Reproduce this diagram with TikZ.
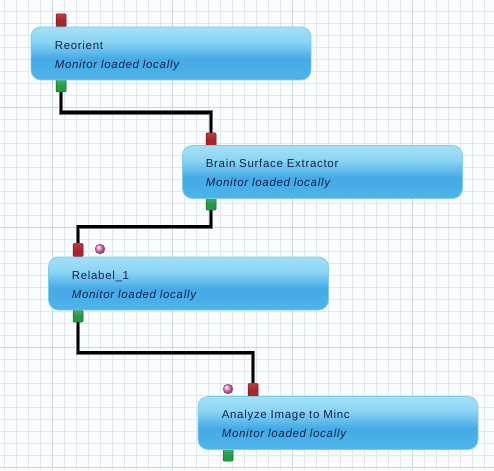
\documentclass[tikz,border=0pt]{standalone}
\usepackage{fontspec}
\setmainfont{Liberation Sans}[LetterSpace=6]
\usetikzlibrary{calc,shadings}
\definecolor{bgcol}{HTML}{FBFCFD}
\definecolor{minorcol}{HTML}{E2E9EE}
\definecolor{majorcol}{HTML}{C5D8DE}
\definecolor{boxtop}{HTML}{CFF3FC}
\definecolor{boxtop2}{HTML}{8DD6F4}
\definecolor{boxmid}{HTML}{44AAE6}
\definecolor{boxbot2}{HTML}{58BAEE}
\definecolor{boxbot}{HTML}{9ED9F4}
\definecolor{boxedge}{HTML}{7CCFE2}
\definecolor{txtcol}{HTML}{15234A}
\definecolor{redport}{HTML}{A8262A}
\definecolor{redporttop}{HTML}{D05058}
\definecolor{rededge}{HTML}{6A1214}
\definecolor{greenport}{HTML}{239A48}
\definecolor{greenporttop}{HTML}{5CC47A}
\definecolor{greenedge}{HTML}{14602C}
\definecolor{pinkball}{HTML}{F070C0}
\pgfdeclareverticalshading{glass}{100bp}{color(0bp)=(boxbot); color(12bp)=(boxbot2); color(45bp)=(boxmid); color(62bp)=(boxtop2); color(100bp)=(boxtop)}
\pgfdeclareverticalshading{redsh}{100bp}{color(0bp)=(redport); color(50bp)=(redport); color(100bp)=(redporttop)}
\pgfdeclareverticalshading{greensh}{100bp}{color(0bp)=(greenport); color(50bp)=(greenport); color(100bp)=(greenporttop)}
\begin{document}
\begin{tikzpicture}[x=1pt,y=-1pt,
  minorline/.style={draw=minorcol,line width=0.6pt},
  majorline/.style={draw=majorcol,line width=0.8pt},
  modbox/.style={draw=boxedge,line width=0.8pt,shading=glass,rounded corners=10pt,
    minimum width=280pt,minimum height=53pt,inner sep=0pt},
  modtext/.style={inner xsep=0pt,inner ysep=0pt,
    text width=233pt,align=left,text=txtcol,font=\fontsize{11.5}{19}\selectfont},
  inport/.style={draw=rededge,line width=0.5pt,shading=redsh,rounded corners=1pt,
    minimum width=10pt,minimum height=13pt,inner sep=0pt},
  outport/.style={draw=greenedge,line width=0.5pt,shading=greensh,rounded corners=1pt,
    minimum width=10pt,minimum height=12pt,inner sep=0pt},
  extport/.style={circle,draw=pinkball!75!black,line width=0.4pt,shading=ball,ball color=pinkball!85!white,
    minimum size=10pt,inner sep=0pt},
  wire/.style={line width=2.6pt,draw=black,line join=miter,
    preaction={draw=black!55,line width=4.4pt,line join=miter}}
]
\useasboundingbox (0,0) rectangle (494,470);
\fill[bgcol] (0,0) rectangle (494,470);
\foreach \x in {4,16,...,496} \draw[minorline] (\x,0) -- (\x,470);
\foreach \y in {11,23,...,470} \draw[minorline] (0,\y) -- (494,\y);
\foreach \x in {52,172,292,412} \draw[majorline] (\x,0) -- (\x,470);
\foreach \y in {107,227,347,467} \draw[majorline] (0,\y) -- (494,\y);

% ports
\node[inport] (p1i) at (61,20.5) {};
\node[outport] (p1o) at (61,86) {};
\node[inport] (p2i) at (211,139.5) {};
\node[outport] (p2o) at (211,204) {};
\node[inport] (p3i) at (78,250) {};
\node[extport] (p3x) at (100,249) {};
\node[outport] (p3o) at (78,316) {};
\node[inport] (p4i) at (253,390) {};
\node[extport] (p4x) at (228,389) {};
\node[outport] (p4o) at (228,455) {};

% module boxes
\node[modbox] (n1) at (171,53.5) {};
\node[modbox] (n2) at (322.5,172) {};
\node[modbox] (n3) at (188.5,283.5) {};
\node[modbox] (n4) at (338,423) {};
\node[modtext,anchor=west] (n1t) at ([xshift=24pt,yshift=-2.5pt]n1.west) {Reorient\\\textit{Monitor loaded locally}};
\node[modtext,anchor=west] (n2t) at ([xshift=23.5pt,yshift=-2.5pt]n2.west) {Brain Surface Extractor\\\textit{Monitor loaded locally}};
\node[modtext,anchor=west] (n3t) at ([xshift=23.5pt,yshift=-2.5pt]n3.west) {Relabel\_1\\\textit{Monitor loaded locally}};
\node[modtext,anchor=west] (n4t) at ([xshift=24pt,yshift=-2.5pt]n4.west) {Analyze Image to Minc\\\textit{Monitor loaded locally}};

% wires
\draw[wire] (p1o.south) |- ($(p1o.south)!0.5!(p2i.north)$) -| (p2i.north);
\draw[wire] (p2o.south) |- ($(p2o.south)!0.5!(p3i.north)$) -| (p3i.north);
\draw[wire] (p3o.south) |- ($(p3o.south)!0.5!(p4i.north)$) -| (p4i.north);
\end{tikzpicture}
\end{document}
